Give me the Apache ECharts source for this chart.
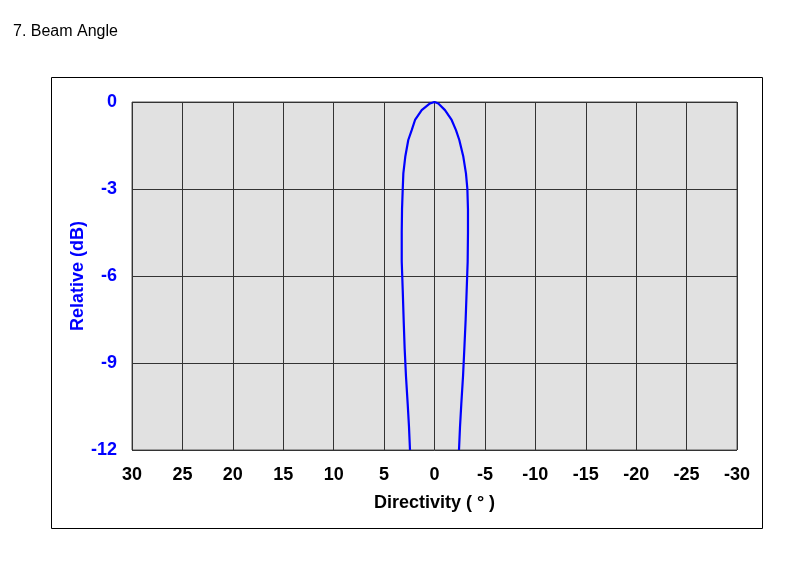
<!DOCTYPE html>
<html>
<head>
<meta charset="utf-8">
<script src="https://cdn.jsdelivr.net/npm/echarts@6/dist/echarts.min.js"></script>
<style>
html,body{margin:0;padding:0;background:#fff;}
#chart{width:790px;height:572px;}
</style>
</head>
<body>
<div id="chart"></div>
<script>
// Beam pattern: directivity angle (degrees) vs relative level (dB)
var angleDeg = [2.43, 2.53, 2.66, 2.83, 2.96, 3.06, 3.15, 3.25, 3.25, 3.22, 3.15, 3.09, 2.9, 2.6, 2.26, 1.93, 1.27, 0.45, 0,
  -0.38, -1.04, -1.7, -2.13, -2.46, -2.86, -3.12, -3.26, -3.32, -3.32, -3.29, -3.19, -3.09, -2.96, -2.83, -2.66, -2.53, -2.43];
var relativeDb = [-12, -11.2, -10.4, -9.45, -8.5, -7.5, -6.5, -5.5, -4.5, -3.7, -3.0, -2.46, -1.89, -1.31, -0.97, -0.62, -0.28, -0.05, 0,
  -0.05, -0.28, -0.62, -0.97, -1.31, -1.89, -2.46, -3.0, -3.7, -4.5, -5.5, -6.5, -7.5, -8.5, -9.45, -10.4, -11.2, -12];
var xTicks = [30, 25, 20, 15, 10, 5, 0, -5, -10, -15, -20, -25, -30];
var yTicks = [0, -3, -6, -9, -12];

var titleText = '7. Beam Angle';
var xName = 'Directivity ( \u00b0 )';
var yName = 'Relative (dB)';

var data = angleDeg.map(function (a, i) { return [a, relativeDb[i]]; });
var FONT = 'Liberation Sans, Arial, sans-serif';

var chart = echarts.init(document.getElementById('chart'), null, {renderer: 'canvas'});
chart.setOption({
  animation: false,
  backgroundColor: '#ffffff',
  title: {
    text: titleText,
    left: 8, top: 19,
    textStyle: {fontFamily: FONT, fontSize: 16, fontWeight: 'normal', color: '#000'}
  },
  graphic: [{
    type: 'rect',
    shape: {x: 51.5, y: 77.5, width: 711, height: 451},
    style: {fill: 'none', stroke: '#000', lineWidth: 1},
    z: 100
  }],
  grid: {
    left: 132, right: 53, top: 102, bottom: 122,
    show: true, backgroundColor: '#e1e1e1', borderColor: '#555', borderWidth: 1
  },
  xAxis: {
    type: 'value', min: -30, max: 30, interval: 5, inverse: true,
    name: xName, nameLocation: 'middle', nameGap: 44, nameMoveOverlap: false,
    nameTextStyle: {fontFamily: FONT, fontSize: 18, fontWeight: 'bold', color: '#000'},
    axisLine: {show: false}, axisTick: {show: false},
    axisLabel: {
      margin: 16, fontFamily: FONT, fontSize: 18, fontWeight: 'bold', color: '#000',
      customValues: xTicks
    },
    splitLine: {show: true, lineStyle: {color: '#333', width: 1}}
  },
  yAxis: {
    type: 'value', min: -12, max: 0, interval: 3,
    name: yName, nameLocation: 'middle', nameGap: 45, nameMoveOverlap: false,
    nameTextStyle: {fontFamily: FONT, fontSize: 18, fontWeight: 'bold', color: '#0000ff'},
    axisLine: {show: false}, axisTick: {show: false},
    axisLabel: {
      margin: 15, fontFamily: FONT, fontSize: 18, fontWeight: 'bold', color: '#0000ff',
      customValues: yTicks
    },
    splitLine: {show: true, lineStyle: {color: '#333', width: 1}}
  },
  series: [{
    type: 'line',
    data: data,
    showSymbol: false,
    smooth: false,
    lineStyle: {color: '#0000ff', width: 2.2},
    z: 10
  }]
});
</script>
</body>
</html>
